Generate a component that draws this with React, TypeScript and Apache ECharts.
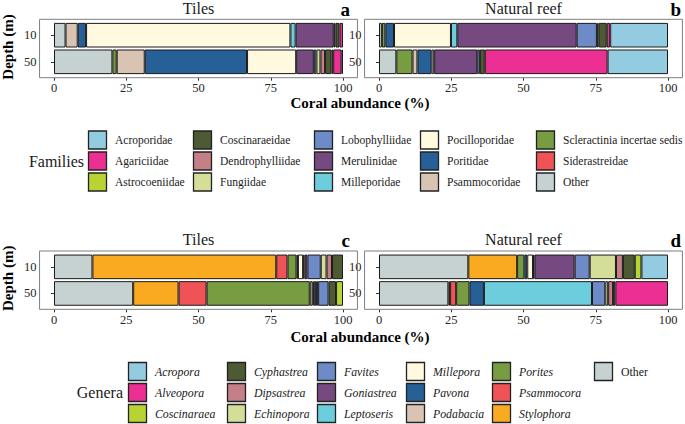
import React, { useEffect, useRef } from 'react';
import * as echarts from 'echarts';

const FONT = 'Liberation Serif';

const depths = ['10', '50'];

const families = [
  'Acroporidae', 'Agariciidae', 'Astrocoeniidae', 'Coscinaraeidae', 'Dendrophylliidae',
  'Fungiidae', 'Lobophylliidae', 'Merulinidae', 'Milleporidae', 'Pocilloporidae',
  'Poritidae', 'Psammocoridae', 'Scleractinia incertae sedis', 'Siderastreidae', 'Other',
];
const familyColors = [
  '#93CCE0', '#EC2F93', '#B8D432', '#4E5A33', '#C57F87',
  '#D4DE99', '#6E8AC7', '#764A80', '#6CCEDD', '#FFF9DF',
  '#266097', '#D9C4B4', '#789C41', '#F05356', '#C6D2D2',
];
// values in families order, percent
const familyTiles10 = [0, 1.2, 0, 1.4, 0, 0, 0.6, 13.2, 1.8, 70.7, 2.9, 4.2, 0, 0, 4.0];
const familyTiles50 = [0.5, 2.9, 0.6, 2.2, 1.6, 1.4, 0.9, 6.1, 0, 17.0, 35.4, 9.7, 1.5, 0, 20.2];
const familyReef10 = [20.0, 1.2, 0, 2.8, 0.6, 0, 7.0, 41.3, 2.2, 19.7, 3.0, 0, 1.2, 0, 1.0];
const familyReef50 = [20.9, 42.5, 0, 1.7, 0, 0, 0.9, 14.9, 0, 0.9, 4.9, 1.7, 5.6, 0, 6.0];

const genera = [
  'Acropora', 'Alveopora', 'Coscinaraea', 'Cyphastrea', 'Dipsastrea', 'Echinopora',
  'Favites', 'Goniastrea', 'Leptoseris', 'Millepora', 'Pavona', 'Podabacia',
  'Porites', 'Psammocora', 'Stylophora', 'Other',
];
const genusColors = [
  '#93CCE0', '#EC2F93', '#B8D432', '#4E5A33', '#C57F87', '#D4DE99',
  '#6E8AC7', '#764A80', '#6CCEDD', '#FFF9DF', '#266097', '#D9C4B4',
  '#789C41', '#F05356', '#F9AA20', '#C6D2D2',
];
const genusTiles10 = [0, 0, 0, 3.8, 1.9, 2.0, 4.6, 1.0, 0.5, 1.8, 0.5, 0, 3.1, 3.9, 63.6, 13.3];
const genusTiles50 = [0, 0, 2.4, 2.6, 0, 0, 3.6, 0.7, 0.8, 0, 0.4, 1.0, 35.7, 9.7, 15.7, 27.4];
const genusReef10 = [9.2, 0, 2.3, 4.1, 2.4, 9.1, 5.2, 13.9, 0.5, 2.0, 1.0, 0, 2.5, 0, 16.9, 30.9];
const genusReef50 = [0, 18.2, 0, 0.8, 1.7, 1.0, 4.6, 0, 37.4, 0, 5.0, 0, 4.6, 2.1, 0.6, 24.0];

// layout
const panels = [
  { tag: 'a', title: 'Tiles', x0: 54, x100: 343, top: 19.3, bottom: 77.7 },
  { tag: 'b', title: 'Natural reef', x0: 379, x100: 668, top: 19.3, bottom: 77.7 },
  { tag: 'c', title: 'Tiles', x0: 54, x100: 343, top: 251, bottom: 309.3 },
  { tag: 'd', title: 'Natural reef', x0: 379, x100: 668, top: 251, bottom: 309.3 },
];

function txt(x: number, y: number, text: string, size: number, opts: any = {}) {
  return {
    type: 'text', x, y, rotation: opts.rotation || 0, z: 120,
    style: {
      text,
      fontFamily: FONT,
      fontSize: size,
      fontWeight: opts.bold ? 'bold' : 'normal',
      fontStyle: opts.italic ? 'italic' : 'normal',
      fill: opts.fill || '#1a1a1a',
      textAlign: opts.align || 'center',
      textVerticalAlign: 'middle',
      align: opts.align || 'center',
      verticalAlign: 'middle',
    },
  };
}

const axisText = { fontFamily: FONT, fontSize: 12.5, color: '#262626' };

function buildOption() {
  const grids: any[] = [];
  const xAxes: any[] = [];
  const yAxes: any[] = [];
  const series: any[] = [];
  const graphic: any[] = [];

  const panelData = [
    { names: families, colors: familyColors, v10: familyTiles10, v50: familyTiles50 },
    { names: families, colors: familyColors, v10: familyReef10, v50: familyReef50 },
    { names: genera, colors: genusColors, v10: genusTiles10, v50: genusTiles50 },
    { names: genera, colors: genusColors, v10: genusReef10, v50: genusReef50 },
  ];

  panels.forEach((p, gi) => {
    const w = p.x100 - p.x0;
    const pad = w * 0.05;
    const pLeft = p.x0 - pad;
    const pRight = p.x100 + pad;
    const mid = (p.top + p.bottom) / 2;
    const band = 26.6;
    const gTop = mid - band;
    const gH = band * 2;
    grids.push({ left: p.x0, top: gTop, width: w, height: gH, show: false });
    xAxes.push({
      type: 'value', gridIndex: gi, min: 0, max: 100, interval: 25,
      offset: p.bottom - (gTop + gH),
      axisLine: { show: false, lineStyle: { color: '#262626' } },
      axisTick: { show: true, length: 3, lineStyle: { color: '#333', width: 1 } },
      splitLine: { show: false },
      axisLabel: { ...axisText, margin: 4 },
    });
    yAxes.push({
      type: 'category', gridIndex: gi, data: depths, inverse: true,
      offset: p.x0 - pLeft,
      axisLine: { show: false, lineStyle: { color: '#262626' } },
      axisTick: { show: true, alignWithLabel: true, length: 3, lineStyle: { color: '#333', width: 1 } },
      axisLabel: { ...axisText, margin: 3 },
    });
    const d = panelData[gi];
    for (let i = d.names.length - 1; i >= 0; i--) {
      series.push({
        type: 'bar', name: d.names[i], stack: 'st' + gi,
        xAxisIndex: gi, yAxisIndex: gi,
        barCategoryGap: '7.5%',
        data: [d.v10[i] || null, d.v50[i] || null],
        itemStyle: { color: d.colors[i], borderColor: '#1a1a1a', borderWidth: 1 },
        silent: true,
      });
    }
    graphic.push({
      type: 'rect', z: 100,
      shape: { x: pLeft, y: p.top, width: pRight - pLeft, height: p.bottom - p.top },
      style: { fill: 'none', stroke: '#7f7f7f', lineWidth: 1 },
    });
    graphic.push(txt((pLeft + pRight) / 2, gi < 2 ? 8 : 239.7, p.title, 16));
    graphic.push(txt(gi % 2 === 0 ? 350 : 681, gi < 2 ? 9.5 : 240.6, p.tag, 19, { bold: true, align: 'right', fill: '#000' }));
  });

  // axis titles
  [102.5, 337].forEach((y) => {
    graphic.push(txt(360, y, 'Coral abundance (%)', 15, { bold: true, fill: '#000' }));
  });
  [47, 278.3].forEach((y) => {
    graphic.push(txt(7.5, y, 'Depth (m)', 15, { bold: true, fill: '#000', rotation: Math.PI / 2 }));
  });

  // legends
  const key = 19;
  const famColX = [88, 193, 314, 420, 536];
  const famRowTop = [130.5, 151.5, 172.5];
  families.forEach((n, i) => {
    const c = Math.floor(i / 3);
    const r = i % 3;
    const x = famColX[c];
    const y = famRowTop[r];
    graphic.push({
      type: 'rect', shape: { x: x + 0.5, y: y + 0.5, width: key - 1, height: key - 1 },
      style: { fill: familyColors[i], stroke: '#222', lineWidth: 1.3 },
    });
    graphic.push(txt(x + 27, y + key / 2, n, 11.5, { align: 'left' }));
  });
  graphic.push(txt(84, famRowTop[1] + key / 2, 'Families', 16, { align: 'right' }));

  const genColX = [128, 227, 317, 406, 492, 594];
  const genRowTop = [362, 383, 404];
  genera.forEach((n, i) => {
    const c = Math.floor(i / 3);
    const r = i % 3;
    const x = genColX[c];
    const y = genRowTop[r];
    graphic.push({
      type: 'rect', shape: { x: x + 0.5, y: y + 0.5, width: key - 1, height: key - 1 },
      style: { fill: genusColors[i], stroke: '#222', lineWidth: 1.3 },
    });
    graphic.push(txt(x + 27, y + key / 2, n, 11.8, { align: 'left', italic: n !== 'Other' }));
  });
  graphic.push(txt(123, genRowTop[1] + key / 2, 'Genera', 16, { align: 'right' }));

  return {
    animation: false,
    backgroundColor: '#ffffff',
    textStyle: { fontFamily: FONT, color: '#262626' },
    grid: grids,
    xAxis: xAxes,
    yAxis: yAxes,
    series,
    graphic,
  };
}

export default function App() {
  const ref = useRef<HTMLDivElement>(null);
  useEffect(() => {
    const chart = echarts.init(ref.current as HTMLDivElement, null, { renderer: 'svg' });
    chart.setOption(buildOption() as any);
    return () => chart.dispose();
  }, []);
  return (
    <div
      ref={ref}
      style={{ position: 'absolute', left: 0, top: 0, width: 685, height: 424 }}
    />
  );
}
